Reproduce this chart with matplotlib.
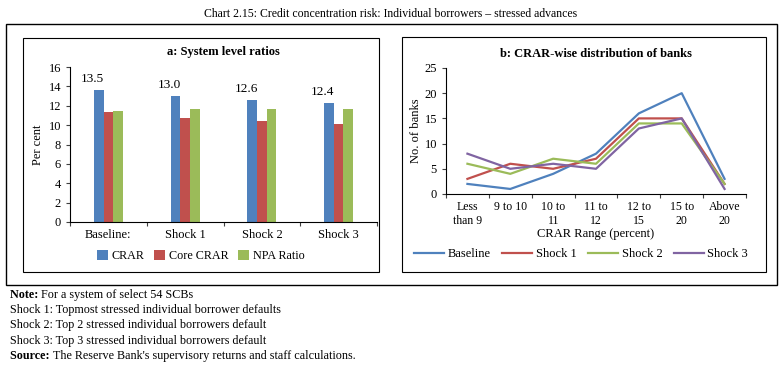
import numpy as np
import matplotlib
matplotlib.use("Agg")
import matplotlib.pyplot as plt
from matplotlib.patches import Rectangle

# -------------------------
# Data
# -------------------------
scenarios = ["Baseline:", "Shock 1", "Shock 2", "Shock 3"]
crar = [13.6, 13.0, 12.6, 12.3]
core_crar = [11.4, 10.7, 10.4, 10.1]
npa_ratio = [11.5, 11.7, 11.7, 11.7]
crar_labels = ["13.5", "13.0", "12.6", "12.4"]

ranges = ["Less\nthan 9", "9 to 10", "10 to\n11", "11 to\n12", "12 to\n15", "15 to\n20", "Above\n20"]
baseline = [2, 1, 4, 8, 16, 20, 3]
shock1 = [3, 6, 5, 7, 15, 15, 2]
shock2 = [6, 4, 7, 6, 14, 14, 2]
shock3 = [8, 5, 6, 5, 13, 15, 1]

blue, red, green, purple = "#4F81BD", "#C0504D", "#9BBB59", "#8064A2"

plt.rcParams["font.family"] = ["Liberation Serif", "DejaVu Serif"]
plt.rcParams["font.size"] = 8.5

W, H = 782, 372
fig = plt.figure(figsize=(W / 100, H / 100), dpi=100)


def px(x0, y0, x1, y1):
    # pixel box (top-left origin) -> figure fraction rect
    return [x0 / W, 1 - y1 / H, (x1 - x0) / W, (y1 - y0) / H]


def box(x0, y0, x1, y1, lw=1.0):
    r = px(x0, y0, x1, y1)
    fig.patches.append(Rectangle((r[0], r[1]), r[2], r[3], transform=fig.transFigure,
                                 fill=False, edgecolor="black", linewidth=lw))


# outer and panel frames
box(6, 24, 777, 285, lw=1.0)
box(23, 38, 379, 272, lw=0.8)
box(402, 37, 766, 272, lw=0.8)

fig.text(391 / W, 1 - 14 / H, "Chart 2.15: Credit concentration risk: Individual borrowers – stressed advances",
         ha="center", va="center", fontsize=8.5)

# -------------------------
# a: System level ratios
# -------------------------
ax1 = fig.add_axes(px(70, 67, 377, 222))
x = np.arange(len(scenarios))
w = 0.125
ax1.bar(x - w, crar, w, color=blue, label="CRAR")
ax1.bar(x, core_crar, w, color=red, label="Core CRAR")
ax1.bar(x + w, npa_ratio, w, color=green, label="NPA Ratio")
for xi, v, lab in zip(x, crar, crar_labels):
    ax1.text(xi - w - 0.08, v + 0.55, lab, ha="center", va="bottom", fontsize=9.5)
ax1.set_ylim(0, 16)
ax1.set_yticks(range(0, 17, 2))
ax1.set_xlim(-0.5, 3.5)
ax1.set_xticks(np.arange(-0.5, 4, 1))
ax1.set_xticklabels([])
ax1.set_xticks(x, minor=True)
ax1.set_xticklabels(scenarios, minor=True, fontsize=9)
ax1.tick_params(axis="x", which="minor", length=0, pad=5)
ax1.tick_params(axis="x", which="major", length=3, direction="out", color="#404040")
ax1.tick_params(axis="y", length=3, direction="out", color="#404040", labelsize=9)
ax1.spines[["top", "right"]].set_visible(False)
ax1.set_ylabel("Per cent", fontsize=9, labelpad=3)
ax1.set_title("a: System level ratios", fontsize=9, fontweight="bold", pad=9)
ax1.legend(loc="center", bbox_to_anchor=(201 / W, 1 - 256 / H), bbox_transform=fig.transFigure,
           ncol=3, frameon=False, fontsize=8.7, handlelength=0.9, handleheight=0.9,
           columnspacing=0.8, handletextpad=0.3)

# -------------------------
# b: CRAR-wise distribution of banks
# -------------------------
ax2 = fig.add_axes(px(446, 68, 746, 194))
xr = np.arange(len(ranges))
ax2.plot(xr, baseline, color=blue, lw=1.6, label="Baseline")
ax2.plot(xr, shock1, color=red, lw=1.6, label="Shock 1")
ax2.plot(xr, shock2, color=green, lw=1.6, label="Shock 2")
ax2.plot(xr, shock3, color=purple, lw=1.6, label="Shock 3")
ax2.set_ylim(0, 25)
ax2.set_yticks(range(0, 26, 5))
ax2.set_xlim(-0.5, len(ranges) - 0.5)
ax2.set_xticks(np.arange(-0.5, len(ranges), 1))
ax2.set_xticklabels([])
ax2.set_xticks(xr, minor=True)
ax2.set_xticklabels(ranges, minor=True, fontsize=8.5, linespacing=1.2)
ax2.tick_params(axis="x", which="minor", length=0, pad=5)
ax2.tick_params(axis="x", which="major", length=3, direction="out", color="#404040")
ax2.tick_params(axis="y", length=3, direction="out", color="#404040", labelsize=9)
ax2.spines[["top", "right"]].set_visible(False)
ax2.set_ylabel("No. of banks", fontsize=9, labelpad=2)
ax2.set_xlabel("CRAR Range (percent)", fontsize=9, labelpad=1)
ax2.set_title("b: CRAR-wise distribution of banks", fontsize=9, fontweight="bold", pad=8)
ax2.legend(loc="center", bbox_to_anchor=(581 / W, 1 - 254 / H), bbox_transform=fig.transFigure,
           ncol=4, frameon=False, fontsize=9, handlelength=2.4, columnspacing=0.9,
           handletextpad=0.3)

# -------------------------
# Notes
# -------------------------
notes = [
    ("Note: ", "For a system of select 54 SCBs"),
    ("", "Shock 1: Topmost stressed individual borrower defaults"),
    ("", "Shock 2: Top 2 stressed individual borrowers default"),
    ("", "Shock 3: Top 3 stressed individual borrowers default"),
    ("Source: ", "The Reserve Bank's supervisory returns and staff calculations."),
]
for i, (head, body) in enumerate(notes):
    y = 1 - (298 + i * 15.2) / H
    t = fig.text(10 / W, y, head, ha="left", va="baseline", fontsize=8.7, fontweight="bold")
    if head:
        fig.canvas.draw()
        bb = t.get_window_extent()
        fig.text(bb.x1 / W, y, body, ha="left", va="baseline", fontsize=8.7)
    else:
        fig.text(10 / W, y, body, ha="left", va="baseline", fontsize=8.7)

fig.savefig("out.png", dpi=100)
